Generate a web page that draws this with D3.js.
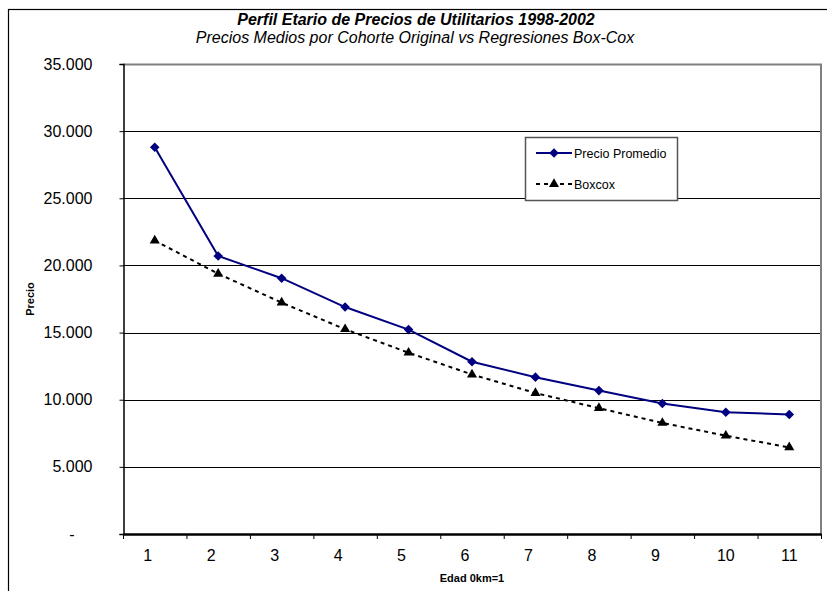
<!DOCTYPE html>
<html>
<head>
<meta charset="utf-8">
<script src="https://cdn.jsdelivr.net/npm/d3@7"></script>
<style>
  html, body { margin: 0; padding: 0; background: #fff; }
  svg { display: block; font-family: "Liberation Sans", Arial, sans-serif; }
</style>
</head>
<body>
<svg id="chart" width="827" height="591"></svg>
<script>
const categories = [1, 2, 3, 4, 5, 6, 7, 8, 9, 10, 11];
const precioPromedio = [28800, 20700, 19050, 16900, 15220, 12830, 11680, 10680, 9720, 9070, 8900];
const boxcox = [21850, 19380, 17230, 15250, 13500, 11880, 10500, 9370, 8270, 7320, 6450];
const yTicks = [0, 5000, 10000, 15000, 20000, 25000, 30000, 35000];
const seriesNames = ["Precio Promedio", "Boxcox"];
const titleText = "Perfil Etario de Precios de Utilitarios 1998-2002";
const subtitleText = "Precios Medios por Cohorte Original vs Regresiones Box-Cox";
const yTitle = "Precio";
const xTitle = "Edad 0km=1";

const svg = d3.select("#chart");
const W = 827, H = 591;
const plot = { left: 123, right: 821, top: 64, bottom: 534 };

const loc = d3.formatLocale({ decimal: ",", thousands: ".", grouping: [3], currency: ["$", ""] });
const fmt = loc.format(",.0f");

// outer frame
svg.append("rect").attr("x", 8.5).attr("y", 9.5).attr("width", W + 10).attr("height", H + 10)
  .attr("fill", "#fff").attr("stroke", "#000").attr("stroke-width", 1.2);

const x = d3.scaleBand().domain(categories).range([plot.left, plot.right]).padding(0);
const y = d3.scaleLinear().domain([0, 35000]).range([plot.bottom, plot.top]);
const cx = c => x(c) + x.bandwidth() / 2;

// gridlines
svg.append("g").selectAll("line").data(yTicks.filter(t => t > 0 && t < 35000)).join("line")
  .attr("x1", plot.left).attr("x2", plot.right)
  .attr("y1", d => Math.round(y(d)) + 0.5).attr("y2", d => Math.round(y(d)) + 0.5)
  .attr("stroke", "#000").attr("stroke-width", 1);

// plot border top/right (gray)
svg.append("path")
  .attr("d", `M${plot.left},${plot.top + 0.5}H${plot.right}V${plot.bottom}`)
  .attr("fill", "none").attr("stroke", "#808080").attr("stroke-width", 2);

// y axis
const yAxis = d3.axisLeft(y).tickValues(yTicks).tickSize(4).tickPadding(27)
  .tickFormat(d => d === 0 ? "-" : fmt(d));
const gy = svg.append("g").attr("transform", `translate(${plot.left + 0.5},0)`).call(yAxis);
gy.select(".domain").attr("stroke", "#000").attr("stroke-width", 1.5);
gy.selectAll(".tick line").attr("stroke", "#000");
gy.selectAll(".tick text").attr("font-size", 16).attr("fill", "#000")
  .attr("font-family", "Liberation Sans, Arial, sans-serif")
  .attr("dx", d => d === 0 ? -18 : 0);

// x axis
const xAxis = d3.axisBottom(x).tickSize(0).tickPadding(16);
const gx = svg.append("g").attr("transform", `translate(0,${plot.bottom})`).call(xAxis);
gx.select(".domain").attr("stroke", "#000").attr("stroke-width", 2.5);
gx.selectAll(".tick text").attr("font-size", 16).attr("fill", "#000")
  .attr("font-family", "Liberation Sans, Arial, sans-serif")
  .attr("dx", d => d < 10 ? -7 : 0);
// boundary ticks
const bounds = categories.map(c => x(c)).concat([plot.right]);
svg.append("g").selectAll("line").data(bounds).join("line")
  .attr("x1", d => d + 0.5).attr("x2", d => d + 0.5)
  .attr("y1", plot.bottom).attr("y2", plot.bottom + 5)
  .attr("stroke", "#000").attr("stroke-width", 1);

// series
const lineGen = d3.line().x((d, i) => cx(categories[i])).y(d => y(d));
svg.append("path").datum(boxcox).attr("d", lineGen)
  .attr("fill", "none").attr("stroke", "#000").attr("stroke-width", 2)
  .attr("stroke-dasharray", "4,4");
svg.append("path").datum(precioPromedio).attr("d", lineGen)
  .attr("fill", "none").attr("stroke", "#000080").attr("stroke-width", 2);

const diamond = d3.symbol().type(d3.symbolSquare).size(46);
const tri = d3.symbol().type(d3.symbolTriangle).size(44);
svg.append("g").selectAll("path").data(boxcox).join("path")
  .attr("d", tri)
  .attr("transform", (d, i) => `translate(${cx(categories[i])},${y(d)})`)
  .attr("fill", "#000");
svg.append("g").selectAll("path").data(precioPromedio).join("path")
  .attr("d", diamond)
  .attr("transform", (d, i) => `translate(${cx(categories[i])},${y(d)}) rotate(45)`)
  .attr("fill", "#000080");

// titles
svg.append("text").attr("x", 416).attr("y", 25).attr("text-anchor", "middle")
  .attr("font-size", 16).attr("font-weight", "bold").attr("font-style", "italic")
  .text(titleText);
svg.append("text").attr("x", 415).attr("y", 43).attr("text-anchor", "middle")
  .attr("font-size", 16).attr("font-style", "italic")
  .text(subtitleText);

svg.append("text").attr("transform", `translate(34,${(plot.top + plot.bottom) / 2}) rotate(-90)`)
  .attr("text-anchor", "middle").attr("font-size", 11).attr("font-weight", "bold")
  .text(yTitle);
svg.append("text").attr("x", (plot.left + plot.right) / 2).attr("y", 582)
  .attr("text-anchor", "middle").attr("font-size", 11).attr("font-weight", "bold")
  .text(xTitle);

// legend
const lg = svg.append("g");
lg.append("rect").attr("x", 525.5).attr("y", 137.5).attr("width", 152).attr("height", 63)
  .attr("fill", "#fff").attr("stroke", "#555").attr("stroke-width", 1.5);
const rows = [
  { name: seriesNames[0], y: 153, color: "#000080", dash: null, sym: diamond, rot: 45 },
  { name: seriesNames[1], y: 184, color: "#000", dash: "4,4", sym: tri, rot: 0 }
];
rows.forEach(r => {
  lg.append("line").attr("x1", 536).attr("x2", 572).attr("y1", r.y).attr("y2", r.y)
    .attr("stroke", r.color).attr("stroke-width", 2).attr("stroke-dasharray", r.dash);
  lg.append("path").attr("d", r.sym).attr("transform", `translate(554,${r.y}) rotate(${r.rot})`)
    .attr("fill", r.color);
  lg.append("text").attr("x", 574).attr("y", r.y + 4.5).attr("font-size", 12.5).text(r.name);
});
</script>
</body>
</html>
